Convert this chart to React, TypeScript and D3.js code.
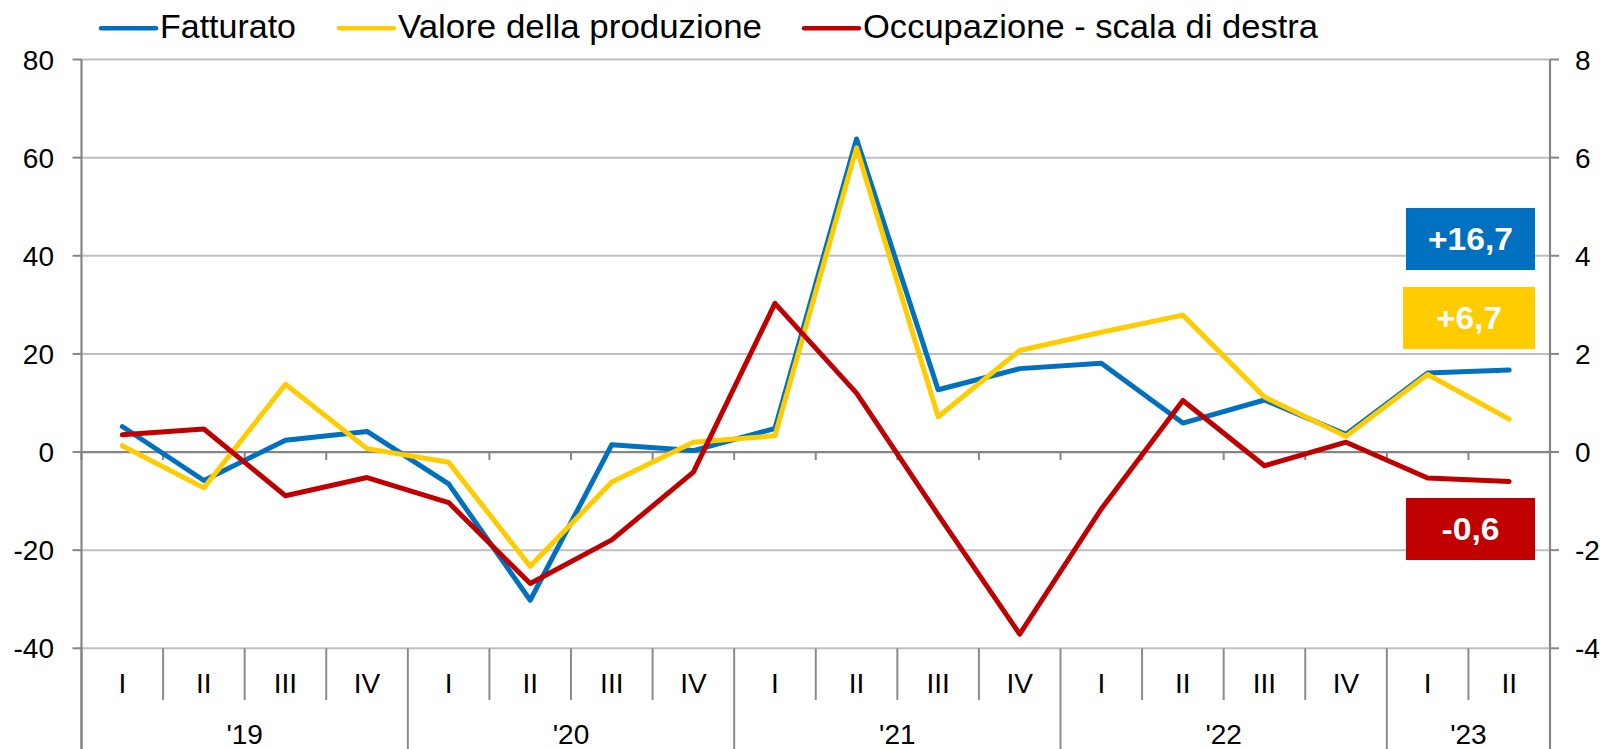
import React from "react";
import * as d3 from "d3";

const quarters = ["I","II","III","IV","I","II","III","IV","I","II","III","IV","I","II","III","IV","I","II"];
const years = [
  { label: "'19", start: 0, end: 4 },
  { label: "'20", start: 4, end: 8 },
  { label: "'21", start: 8, end: 12 },
  { label: "'22", start: 12, end: 16 },
  { label: "'23", start: 16, end: 18 },
];
const fatturato = [5.2, -5.8, 2.4, 4.2, -6.5, -30.2, 1.5, 0.3, 4.8, 63.8, 12.7, 17.0, 18.1, 5.9, 10.6, 3.6, 16.1, 16.7];
const valore = [1.3, -7.3, 13.8, 0.7, -2.1, -23.3, -6.1, 2.0, 3.3, 62.0, 7.2, 20.7, 24.4, 27.9, 11.2, 3.2, 15.8, 6.7];
const occupazione = [0.35, 0.47, -0.89, -0.52, -1.03, -2.68, -1.79, -0.41, 3.03, 1.2, -1.28, -3.71, -1.16, 1.05, -0.28, 0.2, -0.53, -0.6];
const leftTicks = [-40, -20, 0, 20, 40, 60, 80];
const rightTicks = [-4, -2, 0, 2, 4, 6, 8];
const legendItems = [
  { name: "Fatturato", color: "#0070C0" },
  { name: "Valore della produzione", color: "#FFCC00" },
  { name: "Occupazione - scala di destra", color: "#C00000" },
];
const callouts = [
  { text: "+16,7", color: "#0070C0" },
  { text: "+6,7", color: "#FFCC00" },
  { text: "-0,6", color: "#C00000" },
];

const W = 1604, H = 749;
const FONT = "'Liberation Sans', Arial, Helvetica, sans-serif";

export default function App() {
  const left = 81.5, right = 1550;
  const x = d3.scaleBand<number>().domain(quarters.map((_, i) => i)).range([left, right]).paddingInner(0).paddingOuter(0);
  const yL = d3.scaleLinear().domain([-40, 80]).range([648.3, 59.5]);
  const yR = d3.scaleLinear().domain([-4, 8]).range([648.3, 59.5]);
  const cx = (i: number) => (x(i) as number) + x.bandwidth() / 2;
  const lineL = d3.line<number>().x((_, i) => cx(i)).y(d => yL(d));
  const lineR = d3.line<number>().x((_, i) => cx(i)).y(d => yR(d));
  const bottom = yL(-40);

  const legendX = [101, 339, 804];
  const legendW = [136, 364, 455];
  const boxes = [
    { x0: 1406, x1: 1535, y0: 208, y1: 270, tw: 85 },
    { x0: 1403, x1: 1535, y0: 287, y1: 349, tw: 66 },
    { x0: 1406, x1: 1535, y0: 498, y1: 560, tw: 58 },
  ];

  return (
    <svg width={W} height={H} style={{ position: "absolute", left: 0, top: 0, background: "#fff" }} fontFamily={FONT}>
      {/* gridlines */}
      {leftTicks.filter(t => t !== 0).map(t => (
        <line key={"g" + t} x1={left} x2={right} y1={yL(t)} y2={yL(t)} stroke="#BFBFBF" strokeWidth={2} />
      ))}
      {/* category separators at bottom */}
      {quarters.map((_, i) => i).concat([quarters.length]).map(i => {
        const xx = i < quarters.length ? (x(i) as number) : right;
        const isYear = years.some(y => y.start === i || y.end === i);
        return <line key={"s" + i} x1={xx} x2={xx} y1={bottom} y2={isYear ? H : 700} stroke="#8C8C8C" strokeWidth={2} />;
      })}
      {/* zero axis line with ticks */}
      <line x1={left} x2={right} y1={yL(0)} y2={yL(0)} stroke="#868686" strokeWidth={2.2} />
      {quarters.map((_, i) => i).concat([quarters.length]).map(i => {
        const xx = i < quarters.length ? (x(i) as number) : right;
        return <line key={"zt" + i} x1={xx} x2={xx} y1={yL(0)} y2={yL(0) + 8} stroke="#868686" strokeWidth={2} />;
      })}
      {/* y axes */}
      <line x1={left} x2={left} y1={yL(80)} y2={H} stroke="#868686" strokeWidth={2.2} />
      <line x1={right} x2={right} y1={yR(8)} y2={H} stroke="#868686" strokeWidth={2.2} />
      {leftTicks.map(t => (
        <g key={"lt" + t}>
          <line x1={left - 9} x2={left} y1={yL(t)} y2={yL(t)} stroke="#868686" strokeWidth={2} />
          <text x={54} y={yL(t)} dy="0.36em" textAnchor="end" fontSize={28} fill="#000">{t}</text>
        </g>
      ))}
      {rightTicks.map(t => (
        <g key={"rt" + t}>
          <line x1={right} x2={right + 9} y1={yR(t)} y2={yR(t)} stroke="#868686" strokeWidth={2} />
          <text x={1575} y={yR(t)} dy="0.36em" textAnchor="start" fontSize={28} fill="#000">{t}</text>
        </g>
      ))}
      {/* category labels */}
      {quarters.map((q, i) => (
        <text key={"q" + i} x={cx(i)} y={692.7} textAnchor="middle" fontSize={28} fill="#000">{q}</text>
      ))}
      {years.map(y => {
        const x0 = x(y.start) as number;
        const x1 = y.end < quarters.length ? (x(y.end) as number) : right;
        return <text key={y.label} x={(x0 + x1) / 2} y={743.5} textAnchor="middle" fontSize={28} fill="#000">{y.label}</text>;
      })}
      {/* series */}
      <path d={lineL(fatturato) || ""} fill="none" stroke="#0070C0" strokeWidth={5} strokeLinejoin="round" strokeLinecap="round" />
      <path d={lineL(valore) || ""} fill="none" stroke="#FFCC00" strokeWidth={5} strokeLinejoin="round" strokeLinecap="round" />
      <path d={lineR(occupazione) || ""} fill="none" stroke="#C00000" strokeWidth={5} strokeLinejoin="round" strokeLinecap="round" />
      {/* callouts */}
      {callouts.map((c, k) => {
        const b = boxes[k];
        return (
          <g key={"c" + k}>
            <rect x={b.x0} y={b.y0} width={b.x1 - b.x0} height={b.y1 - b.y0} fill={c.color} />
            <text x={(b.x0 + b.x1) / 2} y={(b.y0 + b.y1) / 2} dy="0.36em" textAnchor="middle" fontSize={31} fontWeight="bold" fill="#fff" textLength={b.tw} lengthAdjust="spacingAndGlyphs">{c.text}</text>
          </g>
        );
      })}
      {/* legend */}
      {legendItems.map((l, k) => (
        <g key={"l" + k}>
          <line x1={legendX[k]} x2={legendX[k] + 55} y1={28.3} y2={28.3} stroke={l.color} strokeWidth={4.5} strokeLinecap="round" />
          <text x={legendX[k] + 59} y={38.3} fontSize={32.5} fill="#000" textLength={legendW[k]} lengthAdjust="spacingAndGlyphs">{l.name}</text>
        </g>
      ))}
    </svg>
  );
}
